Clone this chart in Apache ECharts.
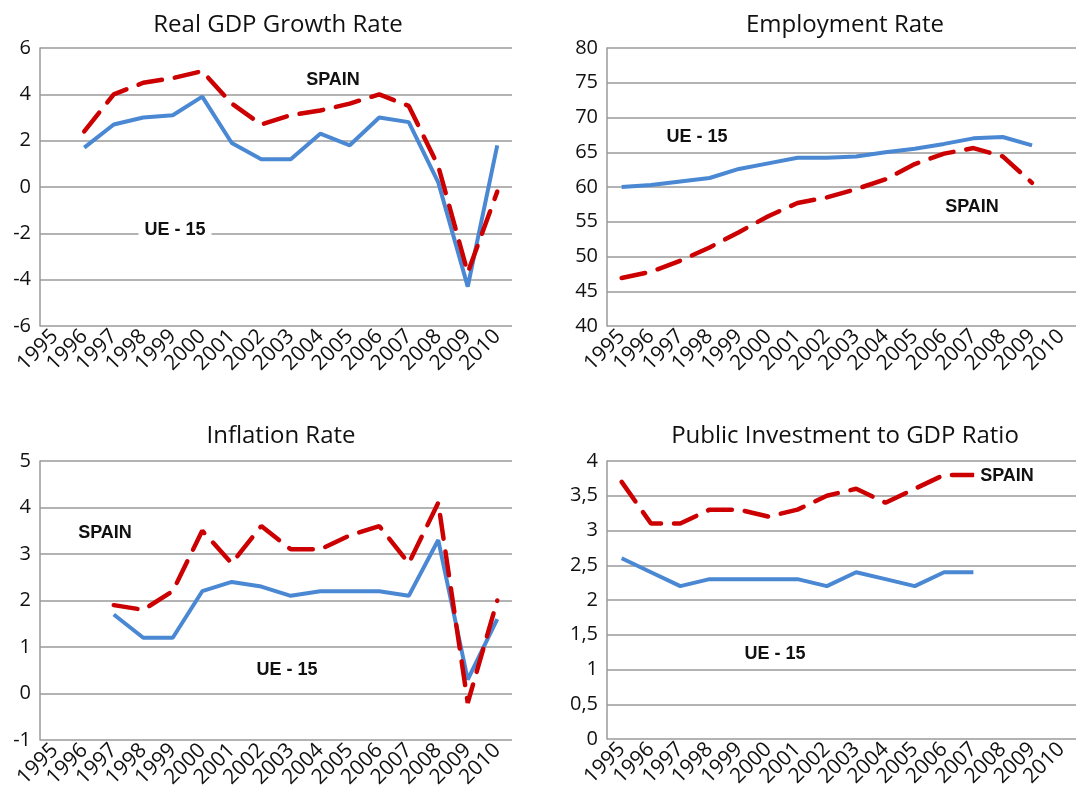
<!DOCTYPE html>
<html>
<head>
<meta charset="utf-8">
<script src="https://cdn.jsdelivr.net/npm/echarts@6/dist/echarts.min.js"></script>
<style>
  html, body { margin: 0; padding: 0; background: #fff; }
  #main { width: 1091px; height: 799px; }
</style>
</head>
<body>
<div id="main"></div>
<script>
// years on every x axis
var years = ['1995','1996','1997','1998','1999','2000','2001','2002','2003','2004','2005','2006','2007','2008','2009','2010'];

// Real GDP growth rate
var gdpUE15  = [null, 1.7, 2.7, 3.0, 3.1, 3.9, 1.9, 1.2, 1.2, 2.3, 1.8, 3.0, 2.8, 0.2, -4.3, 1.8];
var gdpSpain = [null, 2.4, 4.0, 4.5, 4.7, 5.0, 3.6, 2.7, 3.1, 3.3, 3.6, 4.0, 3.5, 0.9, -3.7, -0.2];

// Employment rate
var empUE15  = [60.0, 60.3, 60.8, 61.3, 62.6, 63.4, 64.2, 64.2, 64.4, 65.0, 65.5, 66.2, 67.0, 67.2, 66.0, null];
var empSpain = [46.9, 47.8, 49.4, 51.3, 53.5, 55.8, 57.7, 58.5, 59.7, 61.1, 63.3, 64.8, 65.6, 64.4, 60.6, null];

// Inflation rate
var infUE15  = [null, null, 1.7, 1.2, 1.2, 2.2, 2.4, 2.3, 2.1, 2.2, 2.2, 2.2, 2.1, 3.3, 0.3, 1.6];
var infSpain = [null, null, 1.9, 1.8, 2.2, 3.5, 2.8, 3.6, 3.1, 3.1, 3.4, 3.6, 2.8, 4.1, -0.2, 2.0];

// Public investment to GDP ratio
var pubUE15  = [2.6, 2.4, 2.2, 2.3, 2.3, 2.3, 2.3, 2.2, 2.4, 2.3, 2.2, 2.4, 2.4, null, null, null];
var pubSpain = [3.7, 3.1, 3.1, 3.3, 3.3, 3.2, 3.3, 3.5, 3.6, 3.4, 3.6, 3.8, 3.8, null, null, null];

var titles = ['Real GDP Growth Rate', 'Employment Rate', 'Inflation Rate', 'Public Investment to GDP Ratio'];
var yMin = [-6, 40, -1, 0];
var yMax = [6, 80, 5, 4];
var yStep = [2, 5, 1, 0.5];

var BLUE = '#4a88d4';
var RED = '#cc0000';
var GRID_COLOR = '#9a9a9a';
var FONT = '"Open Sans", "Noto Sans", sans-serif';
var LABEL_FONT = '"Liberation Sans Narrow", "Liberation Sans", Arial, sans-serif';

var grids = [
  { left: 40,  top: 48,  width: 472, height: 278 },
  { left: 607, top: 48,  width: 469, height: 278 },
  { left: 40,  top: 461, width: 472, height: 279 },
  { left: 607, top: 461, width: 469, height: 278 }
];
var titlePos = [[273, 8], [840, 8], [276, 419], [840, 419]];

var seriesPairs = [
  [gdpUE15, gdpSpain],
  [empUE15, empSpain],
  [infUE15, infSpain],
  [pubUE15, pubSpain]
];

function fmtComma(v) {
  return String(v).replace('.', ',');
}

var xAxes = [], yAxes = [], series = [], titleList = [];
for (var i = 0; i < 4; i++) {
  titleList.push({
    text: titles[i],
    left: titlePos[i][0],
    top: titlePos[i][1],
    textAlign: 'center',
    textStyle: { fontFamily: FONT, fontSize: 24, fontWeight: 'normal', color: '#111' }
  });
  xAxes.push({
    type: 'category',
    gridIndex: i,
    data: years,
    boundaryGap: true,
    axisLine: { show: false },
    axisTick: { show: false },
    axisLabel: {
      rotate: 45,
      interval: 0,
      margin: 7,
      fontFamily: FONT,
      fontSize: 21,
      color: '#111'
    }
  });
  yAxes.push({
    type: 'value',
    gridIndex: i,
    min: yMin[i],
    max: yMax[i],
    interval: yStep[i],
    axisLine: { show: true, lineStyle: { color: GRID_COLOR, width: 1.5 } },
    axisTick: { show: false },
    axisLabel: {
      fontFamily: FONT,
      fontSize: 20,
      color: '#111',
      margin: 9,
      formatter: i === 3 ? fmtComma : null
    },
    splitLine: { show: true, lineStyle: { color: GRID_COLOR, width: 1.5 } }
  });
  series.push({
    name: 'UE - 15',
    type: 'line',
    xAxisIndex: i,
    yAxisIndex: i,
    data: seriesPairs[i][0],
    symbol: 'none',
    z: 3,
    lineStyle: { color: BLUE, width: 4 }
  });
  series.push({
    name: 'SPAIN',
    type: 'line',
    xAxisIndex: i,
    yAxisIndex: i,
    data: seriesPairs[i][1],
    symbol: 'none',
    z: 4,
    lineStyle: { color: RED, width: 4.5, type: [24, 13], cap: 'round' }
  });
}

// series name annotations placed like the original text boxes
var notes = [
  ['SPAIN', 333, 80], ['UE - 15', 175, 230],
  ['UE - 15', 697, 137], ['SPAIN', 972, 207],
  ['SPAIN', 105, 533], ['UE - 15', 287, 670],
  ['SPAIN', 1007, 476], ['UE - 15', 775, 654]
];
var graphics = notes.map(function (n) {
  return {
    type: 'text',
    x: n[1],
    y: n[2],
    z: 10,
    style: {
      text: n[0],
      fill: '#111',
      font: 'bold 18px ' + LABEL_FONT,
      align: 'center',
      verticalAlign: 'middle',
      backgroundColor: '#fff',
      padding: [2, 6]
    }
  };
});

var chart = echarts.init(document.getElementById('main'));
chart.setOption({
  backgroundColor: '#fff',
  animation: false,
  title: titleList,
  grid: grids,
  xAxis: xAxes,
  yAxis: yAxes,
  series: series,
  graphic: graphics
});
</script>
</body>
</html>
